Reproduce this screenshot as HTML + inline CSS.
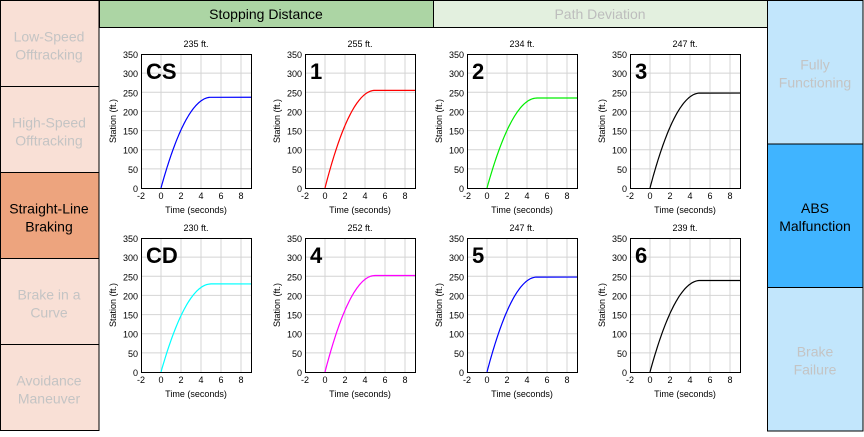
<!DOCTYPE html>
<html><head><meta charset="utf-8"><style>
body{margin:0;width:864px;height:432px;overflow:hidden;background:#fff;font-family:"Liberation Sans",sans-serif}
</style></head><body>
<svg id="s" width="864" height="432" xmlns="http://www.w3.org/2000/svg" font-family="Liberation Sans, sans-serif"></svg>
<script>
var s=document.getElementById('s'),h='';
function r(x,y,w,hh,f){h+='<rect x="'+x+'" y="'+y+'" width="'+w+'" height="'+hh+'" fill="'+f+'" stroke="#000" stroke-width="1"/>';}
function t(x,y,txt,sz,c,a,extra){h+='<text x="'+x+'" y="'+y+'" font-size="'+sz+'" fill="'+c+'" text-anchor="'+(a||'middle')+'" '+(extra||'')+'>'+txt+'</text>';}
// left panel
var L=[['Low-Speed','Offtracking',0],['High-Speed','Offtracking',0],['Straight-Line','Braking',1],['Brake in a','Curve',0],['Avoidance','Maneuver',0]];
for(var i=0;i<5;i++){var y=0.5+i*86;r(0.5,y,98.5,86,L[i][2]?'#eda47e':'#f9e0d6');var c=L[i][2]?'#000':'#c4c4c4';t(49,y+41,L[i][0],14,c);t(49,y+59,L[i][1],14,c);}
// right panel
var R=[['Fully','Functioning',0],['ABS','Malfunction',1],['Brake','Failure',0]];
for(i=0;i<3;i++){var y=0.5+i*143.5;r(767.5,y,95.5,143.5,R[i][1+1]?'#40b4ff':'#c2e6fc');var c=R[i][2]?'#000':'#c4c4c4';t(815,y+69,R[i][0],14,c);t(815,y+87,R[i][1],14,c);}
// header
r(99.5,0.5,334,27,'#acd5a4');r(433.5,0.5,334,27,'#e3f0df');
t(266,19,'Stopping Distance',14,'#000');t(600,19,'Path Deviation',14,'#bdbdbd');
// plots
var cols=[141,305,467,630],rows=[54,238];
var P=[['CS','235 ft.',237,'#0000ff'],['1','255 ft.',255,'#ff0000'],['2','234 ft.',235,'#00ee00'],['3','247 ft.',248,'#000'],
['CD','230 ft.',230,'#00ffff'],['4','252 ft.',252,'#ff00ff'],['5','247 ft.',248,'#0000ff'],['6','239 ft.',239,'#000']];
for(i=0;i<8;i++){var X=cols[i%4],Y=rows[Math.floor(i/4)],W=110,H=134;
 function px(v){return X+(v+2)*10;} function py(v){return Y+H-v*H/350;}
 for(var g=0;g<=8;g+=2)h+='<line x1="'+px(g)+'" y1="'+Y+'" x2="'+px(g)+'" y2="'+(Y+H)+'" stroke="#d4d4d4"/>';
 for(g=50;g<350;g+=50)h+='<line x1="'+X+'" y1="'+py(g)+'" x2="'+(X+W)+'" y2="'+py(g)+'" stroke="#d4d4d4"/>';
 for(g=-2;g<=8;g+=2){t(px(g),Y+H+11,g,9,'#000');}
 for(g=0;g<=350;g+=50){t(X-3,py(g)+4,g,9,'#000','end');}
 var sf=P[i][2],ts=5,v0=2*sf/ts,a=v0/ts,d='M'+px(0)+' '+py(0);
 for(var k=1;k<=50;k++){var tt=ts*k/50;d+=' L'+px(tt).toFixed(1)+' '+py(v0*tt-0.5*a*tt*tt).toFixed(1);}
 d+=' L'+px(9)+' '+py(sf);
 h+='<path d="'+d+'" fill="none" stroke="'+P[i][3]+'" stroke-width="1.2"/>';
 h+='<rect x="'+(X+.5)+'" y="'+(Y+.5)+'" width="'+W+'" height="'+H+'" fill="none" stroke="#000"/>';
 t(X+W/2,Y-7,P[i][1],9,'#000');
 t(X+W/2,Y+H+25,'Time (seconds)',9,'#000');
 t(0,0,'Station (ft.)',9,'#000','middle','transform="translate('+(X-25)+','+(Y+H/2)+') rotate(-90)"');
 t(X+5,Y+25,P[i][0],22,'#000','start','font-weight="bold"');
}
s.innerHTML=h;
</script>
</body></html>
